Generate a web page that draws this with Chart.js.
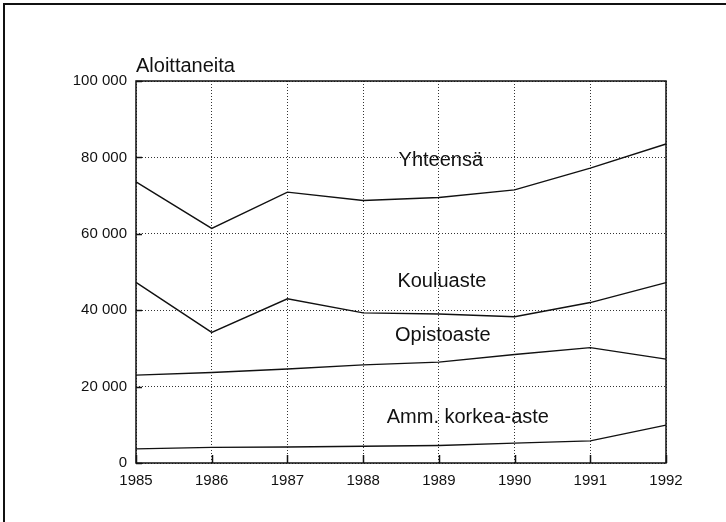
<!DOCTYPE html>
<html>
<head>
<meta charset="utf-8">
<script src="https://cdn.jsdelivr.net/npm/chart.js@4"></script>
<style>
  body { margin: 0; background: #fff; }
  #wrap { position: relative; width: 726px; height: 522px; }
</style>
</head>
<body>
<div id="wrap"><canvas id="chart" width="726" height="522"></canvas></div>
<script>
// data
let years = ['1985', '1986', '1987', '1988', '1989', '1990', '1991', '1992'];
let yhteensa = [73600, 61400, 70900, 68700, 69500, 71500, 77200, 83500];
let kouluaste = [47300, 34200, 43000, 39300, 39000, 38300, 42000, 47200];
let opistoaste = [23000, 23700, 24600, 25700, 26400, 28400, 30200, 27200];
let ammKorkea = [3700, 4100, 4200, 4400, 4600, 5200, 5800, 9900];
let yTicks = [0, 20000, 40000, 60000, 80000, 100000];

// in-plot series names, anchored in data units
let labelNames = ['Yhteensä', 'Kouluaste', 'Opistoaste', 'Amm. korkea-aste'];
let labelX = ['1989', '1989', '1989', '1989'];
let labelY = [79100, 47400, 33300, 12000];
let labelShift = [2, 3, 4, 29];

const FONT = '"Liberation Sans", Arial, Helvetica, sans-serif';

function fmt(v) {
    return String(v).replace(/\B(?=(\d{3})+(?!\d))/g, ' ');
}

let decor = {
    id: 'decor',
    beforeDraw(chart) {
        let ctx = chart.ctx;
        ctx.save();
        ctx.fillStyle = '#fff';
        ctx.fillRect(0, 0, chart.width, chart.height);
        // page frame (left and top edges)
        ctx.strokeStyle = '#111';
        ctx.lineWidth = 2;
        ctx.beginPath();
        ctx.moveTo(4, chart.height);
        ctx.lineTo(4, 4);
        ctx.lineTo(chart.width, 4);
        ctx.stroke();
        ctx.restore();
    },
    afterDraw(chart) {
        let ctx = chart.ctx;
        let a = chart.chartArea;
        let xs = chart.scales.x;
        let ys = chart.scales.y;
        ctx.save();
        ctx.strokeStyle = '#111';
        ctx.lineWidth = 1.5;
        ctx.strokeRect(a.left, a.top, a.right - a.left, a.bottom - a.top);
        // inward ticks
        ctx.beginPath();
        yTicks.forEach((v) => {
            let py = Math.round(ys.getPixelForValue(v)) + 0.5;
            ctx.moveTo(a.left, py);
            ctx.lineTo(a.left + 6, py);
        });
        years.forEach((y, i) => {
            let px = Math.round(xs.getPixelForValue(i)) + 0.5;
            ctx.moveTo(px, a.bottom);
            ctx.lineTo(px, a.bottom - 8);
        });
        ctx.stroke();
        // axis title
        ctx.fillStyle = '#111';
        ctx.font = '20px ' + FONT;
        ctx.textAlign = 'left';
        ctx.textBaseline = 'alphabetic';
        ctx.fillText('Aloittaneita', a.left, a.top - 9);
        // series names
        ctx.textAlign = 'center';
        ctx.textBaseline = 'middle';
        labelNames.forEach((t, i) => {
            let px = xs.getPixelForValue(years.indexOf(labelX[i])) + labelShift[i];
            let py = ys.getPixelForValue(labelY[i]);
            ctx.fillText(t, px, py);
        });
        ctx.restore();
    }
};

function series(label, data) {
    return {
        label: label,
        data: data,
        borderColor: '#111',
        borderWidth: 1.4,
        pointRadius: 0,
        fill: false,
        tension: 0
    };
}

new Chart(document.getElementById('chart'), {
    type: 'line',
    data: {
        labels: years,
        datasets: [
            series('Yhteensä', yhteensa),
            series('Kouluaste', kouluaste),
            series('Opistoaste', opistoaste),
            series('Amm. korkea-aste', ammKorkea)
        ]
    },
    plugins: [decor],
    options: {
        responsive: false,
        animation: false,
        layout: { padding: { top: 81, right: 60, bottom: 0, left: 0 } },
        plugins: {
            legend: { display: false },
            tooltip: { enabled: false }
        },
        scales: {
            x: {
                offset: false,
                grid: {
                    color: '#333',
                    lineWidth: 1,
                    drawTicks: false
                },
                border: { display: false, dash: [1, 2] },
                ticks: {
                    color: '#111',
                    padding: 9,
                    maxRotation: 0,
                    font: { size: 15, family: FONT }
                },
                afterFit(scale) { scale.height = 59; }
            },
            y: {
                min: 0,
                max: 100000,
                afterBuildTicks(scale) {
                    scale.ticks = yTicks.map((v) => ({ value: v }));
                },
                grid: {
                    color: '#333',
                    lineWidth: 1,
                    drawTicks: false
                },
                border: { display: false, dash: [1, 2] },
                ticks: {
                    color: '#111',
                    padding: 9,
                    font: { size: 15, family: FONT },
                    callback: (v) => fmt(v)
                },
                afterFit(scale) { scale.width = 136; }
            }
        }
    }
});
</script>
</body>
</html>
